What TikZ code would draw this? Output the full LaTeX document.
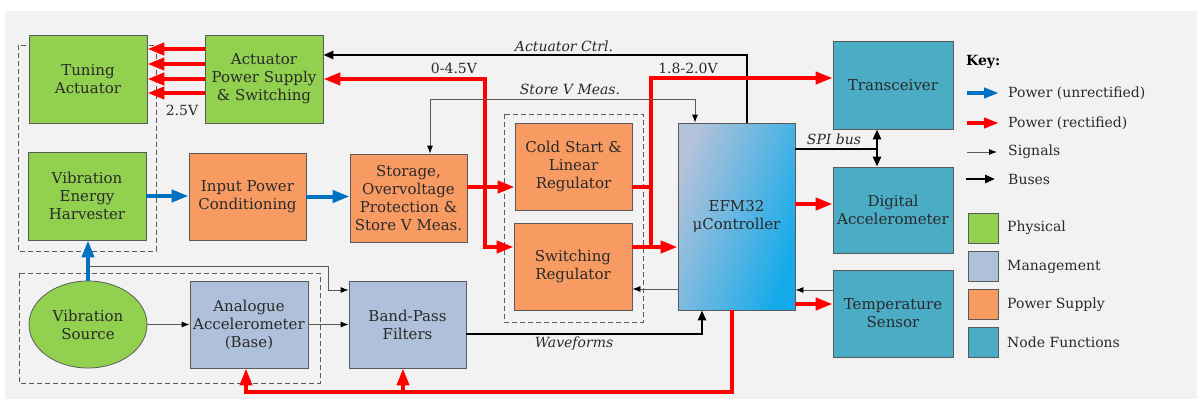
\documentclass[tikz,border=0pt]{standalone}
\usepackage{fontspec}
\setmainfont{DejaVu Serif}
\usetikzlibrary{arrows.meta,shapes.geometric}
\definecolor{bgc}{HTML}{F2F2F2}
\definecolor{boxline}{HTML}{5A5A5A}
\definecolor{physc}{HTML}{92D050}
\definecolor{mgmtc}{HTML}{AFC0DA}
\definecolor{psc}{HTML}{F89B63}
\definecolor{nodec}{HTML}{4BACC6}
\definecolor{redc}{HTML}{FF0000}
\definecolor{bluec}{HTML}{0070C0}
\definecolor{sigc}{HTML}{5A5A5A}
\definecolor{txtc}{HTML}{2A2A2A}
\definecolor{efmA}{HTML}{B4C2DA}
\definecolor{efmB}{HTML}{12AAEA}
\begin{document}
\begin{tikzpicture}[x=1pt,y=-1pt,
  box/.style={draw=boxline, line width=0.8pt, inner sep=1pt, align=center,
    text=txtc, font=\fontsize{15}{18}\selectfont},
  phys/.style={box, fill=physc},
  mgmt/.style={box, fill=mgmtc},
  psbox/.style={box, fill=psc},
  nodebox/.style={box, fill=nodec},
  grp/.style={draw=boxline, line width=0.8pt, dash pattern=on 5pt off 3pt},
  pwrline/.style={draw=redc, line width=4pt},
  pwr/.style={pwrline, -{Triangle[length=17pt,width=12pt]}},
  raw/.style={draw=bluec, line width=4pt, -{Triangle[length=17pt,width=12pt]}},
  busline/.style={draw=black, line width=2.4pt},
  bus/.style={busline, -{Triangle[length=10pt,width=8pt]}},
  sig/.style={draw=sigc, line width=0.8pt, -{Latex[length=8pt,width=6pt,color=black]}},
  sigboth/.style={draw=sigc, line width=0.8pt, {Latex[length=8pt,width=6pt,color=black]}-{Latex[length=8pt,width=6pt,color=black]}},
  lbl/.style={text=txtc, inner sep=0pt, font=\fontsize{14}{17}\selectfont},
  ilbl/.style={text=txtc, inner sep=0pt, font=\itshape\fontsize{14}{17}\selectfont},
  legtext/.style={text=txtc, inner sep=0pt, anchor=west, font=\fontsize{14}{17}\selectfont},
  keysq/.style={draw=boxline, line width=0.8pt, minimum width=30pt, minimum height=30pt, inner sep=0pt}
]
\useasboundingbox (0,0) rectangle (1197,399);
\fill[white] (0,0) rectangle (1197,399);
\fill[bgc] (5,11) rectangle (1197,399);

% group boxes
\draw[grp] (18,45) rectangle (156,251);
\draw[grp] (19,273) rectangle (320,383);
\draw[grp] (504,114) rectangle (643,322);

% nodes
\node[phys, minimum width=118pt, minimum height=88pt] (ta) at (88,79) {Tuning\\Actuator};
\node[phys, minimum width=118pt, minimum height=88pt] (aps) at (264,79) {Actuator\\Power Supply\\\& Switching};
\node[phys, minimum width=118pt, minimum height=88pt] (veh) at (87,196) {Vibration\\Energy\\Harvester};
\node[psbox, minimum width=117pt, minimum height=87pt] (ipc) at (247.5,196.5) {Input Power\\Conditioning};
\node[psbox, minimum width=117pt, minimum height=88pt] (sto) at (408.5,198) {Storage,\\Overvoltage\\Protection \&\\Store V Meas.};
\node[psbox, minimum width=117pt, minimum height=87pt] (csl) at (573.5,166.5) {Cold Start \&\\Linear\\Regulator};
\node[psbox, minimum width=118pt, minimum height=87pt] (swr) at (573,266.5) {Switching\\Regulator};
\node[box, left color=efmA, right color=efmB, shading angle=70, minimum width=117pt, minimum height=187pt] (efm) at (736.5,216.5) {EFM32\\μController};
\node[nodebox, minimum width=120pt, minimum height=88pt] (trx) at (893,85) {Transceiver};
\node[nodebox, minimum width=120pt, minimum height=86pt] (dacc) at (893,210) {Digital\\Accelerometer};
\node[nodebox, minimum width=120pt, minimum height=87pt] (temp) at (893,313.5) {Temperature\\Sensor};
\node[mgmt, minimum width=117pt, minimum height=87pt] (bpf) at (407.5,324.5) {Band-Pass\\Filters};
\node[mgmt, minimum width=118pt, minimum height=87pt] (aacc) at (249,324.5) {Analogue\\Accelerometer\\(Base)};
\node[phys, ellipse, minimum width=118pt, minimum height=87pt, inner sep=0pt] (vs) at (88,324.5) {Vibration\\Source};

% actuator power lines
\foreach \yy in {49,64,79,93} {
  \draw[pwr] (aps.west |- 0,\yy) -- (ta.east |- 0,\yy);
}
\node[lbl] (l25) at (182,110) {2.5V};

% actuator control bus
\draw[bus] (efm.north -| 747,0) |- (aps.east |- 0,55);
\node[ilbl] (lac) at (564,46) {Actuator Ctrl.};

% storage outputs
\coordinate (j1) at (485,187);
\draw[pwr] (sto.east |- j1) -- (csl.west |- j1);
\draw[pwr] (j1) |- (aps.east |- 0,79);
\draw[pwr] (j1) |- (swr.west |- 0,247);
\node[lbl] (l045) at (454,68) {0-4.5V};

% regulator outputs
\coordinate (j2) at (651,187);
\coordinate (j3) at (651,247);
\draw[pwrline] (csl.east |- j2) -- (j2);
\draw[pwr] (swr.east |- j3) -- (efm.west |- j3);
\draw[pwr] (j3) |- (trx.west |- 0,78);
\node[lbl] (l18) at (688,68) {1.8-2.0V};

% store V meas signal
\coordinate (sv) at (430,99);
\draw[sigboth] (efm.north -| 695,0) |- (sv) -- (sto.north -| sv);
\node[ilbl] (lsv) at (570,89) {Store V Meas.};

% SPI bus
\coordinate (spi) at (877,149);
\draw[busline] (efm.east |- spi) -- (spi);
\draw[busline, {Triangle[length=10pt,width=8pt]}-{Triangle[length=10pt,width=8pt]}] (trx.south -| spi) -- (dacc.north -| spi);
\node[ilbl] (lspi) at (834,139) {SPI bus};

% controller to node functions
\draw[pwr] (efm.east |- 0,204) -- (dacc.west |- 0,204);
\draw[sig] (temp.west |- 0,290) -- (efm.east |- 0,290);
\draw[pwr] (efm.east |- 0,304) -- (temp.west |- 0,304);
\draw[sig] (efm.west |- 0,289) -- (swr.east |- 0,289);

% bottom power line
\coordinate (jb1) at (246,392);
\coordinate (jb2) at (403,392);
\draw[pwr] (efm.south -| 732,0) |- (jb1) -- (aacc.south -| jb1);
\draw[pwr] (jb2) -- (bpf.south -| jb2);

% waveforms
\draw[bus] (bpf.east |- 0,334) -| (efm.south -| 702,0);
\node[ilbl] (lwf) at (574,344) {Waveforms};

% vibration power
\draw[raw] (vs.north) -- (vs.north |- veh.south);
\draw[raw] (veh.east) -- (ipc.west |- veh.east);
\draw[raw] (ipc.east) -- (sto.west |- ipc.east);

% vibration signals
\coordinate (vb) at (88,266);
\coordinate (vc) at (328,290);
\draw[sig] (vb) -| (vc) -- (bpf.west |- vc);
\draw[sig] (vs.east) -- (aacc.west |- vs.east);
\draw[sig] (aacc.east) -- (bpf.west |- aacc.east);

% key
\node[anchor=west, inner sep=0pt, text=black, font=\bfseries\fontsize{14}{17}\selectfont] (key) at (966,62) {Key:};
\coordinate (k1a) at (967,93);  \coordinate (k1b) at (999,93);
\coordinate (k2a) at (967,123); \coordinate (k2b) at (999,123);
\coordinate (k3a) at (967,152); \coordinate (k3b) at (997,152);
\coordinate (k4a) at (966,179); \coordinate (k4b) at (995,179);
\draw[draw=bluec, line width=4pt, -{Triangle[length=15pt,width=10pt]}] (k1a) -- (k1b);
\draw[draw=redc, line width=4pt, -{Triangle[length=15pt,width=10pt]}] (k2a) -- (k2b);
\draw[sig] (k3a) -- (k3b);
\draw[bus] (k4a) -- (k4b);
\node[legtext] (t1) at (1008,93) {Power (unrectified)};
\node[legtext] (t2) at (1008,123) {Power (rectified)};
\node[legtext] (t3) at (1008,152) {Signals};
\node[legtext] (t4) at (1008,179) {Buses};
\node[keysq, fill=physc] (s1) at (983,228) {};
\node[keysq, fill=mgmtc] (s2) at (983,266.5) {};
\node[keysq, fill=psc] (s3) at (983,304.5) {};
\node[keysq, fill=nodec] (s4) at (983,342) {};
\node[legtext] (t5) at (1007,228) {Physical};
\node[legtext] (t6) at (1007,266.5) {Management};
\node[legtext] (t7) at (1007,304.5) {Power Supply};
\node[legtext] (t8) at (1007,342) {Node Functions};
\end{tikzpicture}
\end{document}
